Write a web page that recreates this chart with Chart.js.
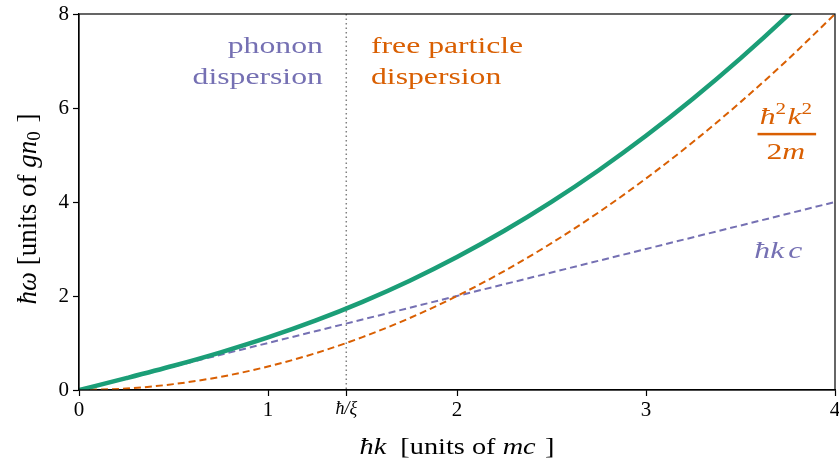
<!DOCTYPE html>
<html>
<head>
<meta charset="utf-8">
<script src="https://cdn.jsdelivr.net/npm/chart.js@4.4.0/dist/chart.umd.min.js"></script>
<style>
    body { margin: 0; background: #fff; font-family: "Liberation Serif", serif; }
    #wrap { width: 839px; height: 468px; position: relative; }
</style>
</head>
<body>
<div id="wrap"><canvas id="dispersionChart"></canvas></div>
<script>
// k values (units of mc)
const kValues = [0, 0.25, 0.5, 0.75, 1, 1.25, 1.5, 1.75, 2, 2.25, 2.5, 2.75, 3, 3.25, 3.5, 3.75, 4];
// Bogoliubov dispersion (units of gn0)
const bogoliubov = [0, 0.252, 0.515, 0.801, 1.118, 1.474, 1.875, 2.325, 2.828, 3.387, 4.002, 4.676, 5.408, 6.201, 7.055, 7.969, 8.944];
// free particle dispersion
const freeParticle = [0, 0.031, 0.125, 0.281, 0.5, 0.781, 1.125, 1.531, 2, 2.531, 3.125, 3.781, 4.5, 5.281, 6.125, 7.031, 8];
// phonon dispersion
const phonon = [0, 0.25, 0.5, 0.75, 1, 1.25, 1.5, 1.75, 2, 2.25, 2.5, 2.75, 3, 3.25, 3.5, 3.75, 4];

const xTicks = [0, 1, 1.4142, 2, 3, 4];
const xTickLabels = ['0', '1', 'ħ/ξ', '2', '3', '4'];
const healingK = 1.4142;

const serif = '"Liberation Serif", serif';
const green = '#1b9e77';
const orange = '#d95f02';
const purple = '#7570b3';

function toPoints(xs, ys) {
    return xs.map((x, i) => ({ x: x, y: ys[i] }));
}

// draw a row of text pieces with different fonts, stretched sideways by sx
function drawParts(ctx, parts, x, y, align, sx) {
    sx = sx || 1;
    let total = 0;
    parts.forEach(p => {
        ctx.font = p.font;
        p.w = ctx.measureText(p.text).width + (p.gap || 0);
        total += p.w;
    });
    let cx = align === 'center' ? -total / 2 : (align === 'right' ? -total : 0);
    ctx.save();
    ctx.translate(x, y);
    ctx.scale(sx, 1);
    parts.forEach(p => {
        ctx.font = p.font;
        ctx.textAlign = 'left';
        ctx.fillText(p.text, cx, p.dy || 0);
        cx += p.w;
    });
    ctx.restore();
}

const annotations = {
    id: 'annotations',
    beforeDatasetsDraw(chart) {
        const { ctx, chartArea, scales } = chart;
        const px = scales.x.getPixelForValue(healingK);
        ctx.save();
        ctx.strokeStyle = '#808080';
        ctx.lineWidth = 1.5;
        ctx.setLineDash([1.5, 3]);
        ctx.beginPath();
        ctx.moveTo(px, chartArea.top);
        ctx.lineTo(px, chartArea.bottom);
        ctx.stroke();
        ctx.restore();
    },
    afterDraw(chart) {
        const { ctx, chartArea, scales } = chart;
        const X = v => scales.x.getPixelForValue(v);
        const Y = v => scales.y.getPixelForValue(v);
        ctx.save();
        ctx.strokeStyle = '#000';
        ctx.lineWidth = 1.2;
        ctx.strokeRect(chartArea.left, chartArea.top, chartArea.right - chartArea.left, chartArea.bottom - chartArea.top);

        ctx.textBaseline = 'middle';
        const big = '24px ' + serif;
        const bigIt = 'italic 24px ' + serif;
        const sup = '16px ' + serif;
        const s = 1.32;

        ctx.fillStyle = purple;
        drawParts(ctx, [{ text: 'phonon', font: big }], X(1.29), Y(7.3), 'right', s);
        drawParts(ctx, [{ text: 'dispersion', font: big }], X(1.29), Y(6.64), 'right', s);
        drawParts(ctx, [
            { text: 'ħk', font: bigIt, gap: 3 },
            { text: 'c', font: bigIt }
        ], X(3.7), Y(2.94), 'center', s);

        ctx.fillStyle = orange;
        drawParts(ctx, [{ text: 'free particle', font: big }], X(1.545), Y(7.3), 'left', s);
        drawParts(ctx, [{ text: 'dispersion', font: big }], X(1.545), Y(6.64), 'left', s);
        drawParts(ctx, [
            { text: 'ħ', font: bigIt },
            { text: '2', font: sup, dy: -8, gap: 1 },
            { text: 'k', font: bigIt },
            { text: '2', font: sup, dy: -8 }
        ], X(3.74), Y(5.8), 'center', s);
        ctx.fillRect(X(3.59), Y(5.45) - 1, X(3.9) - X(3.59), 2.5);
        drawParts(ctx, [
            { text: '2', font: big },
            { text: 'm', font: bigIt }
        ], X(3.74), Y(5.05), 'center', s);

        // axis titles
        ctx.fillStyle = '#000';
        const t = '24px ' + serif;
        const ti = 'italic 24px ' + serif;
        drawParts(ctx, [
            { text: 'ħk', font: ti },
            { text: '  [units of ', font: t },
            { text: 'mc', font: ti, gap: 2 },
            { text: ' ]', font: t }
        ], (chartArea.left + chartArea.right) / 2, 448, 'center', 1.18);

        const ty = '27px ' + serif;
        const tyi = 'italic 27px ' + serif;
        ctx.translate(29, 209);
        ctx.rotate(-Math.PI / 2);
        drawParts(ctx, [
            { text: 'ħω', font: tyi },
            { text: ' [units of ', font: ty },
            { text: 'gn', font: tyi },
            { text: '0', font: '19px ' + serif, dy: 6, gap: 2 },
            { text: ' ]', font: ty }
        ], 0, 0, 'center', 1);
        ctx.restore();
    }
};

function buildChart() {
    const ctx = document.getElementById('dispersionChart').getContext('2d');
    return new Chart(ctx, {
        type: 'line',
        data: {
            datasets: [
                {
                    label: 'Bogoliubov',
                    data: toPoints(kValues, bogoliubov),
                    borderColor: green,
                    borderWidth: 4.5,
                    pointRadius: 0,
                    cubicInterpolationMode: 'monotone',
                    order: 0
                },
                {
                    label: 'free particle',
                    data: toPoints(kValues, freeParticle),
                    borderColor: orange,
                    borderWidth: 2,
                    borderDash: [7, 4],
                    pointRadius: 0,
                    cubicInterpolationMode: 'monotone',
                    order: 1
                },
                {
                    label: 'phonon',
                    data: toPoints(kValues, phonon),
                    borderColor: purple,
                    borderWidth: 2,
                    borderDash: [7, 4],
                    pointRadius: 0,
                    order: 2
                }
            ]
        },
        options: {
            responsive: true,
            maintainAspectRatio: false,
            animation: false,
            layout: { padding: { top: 14, right: 4, left: 0, bottom: 0 } },
            plugins: { legend: { display: false }, tooltip: { enabled: false } },
            scales: {
                x: {
                    type: 'linear',
                    min: 0,
                    max: 4,
                    afterBuildTicks: scale => { scale.ticks = xTicks.map(v => ({ value: v })); },
                    afterFit: scale => {
                        scale.height = 78;
                        scale.paddingLeft = 0;
                        scale.paddingRight = 0;
                    },
                    grid: { drawOnChartArea: false, drawTicks: true, tickLength: 6, color: '#000', tickWidth: 1.2 },
                    border: { display: true, color: '#000', width: 1.2 },
                    ticks: {
                        autoSkip: false,
                        maxRotation: 0,
                        color: '#000',
                        padding: 2,
                        font: c => (c.tick && c.tick.value === healingK)
                            ? { family: serif, size: 18, style: 'italic' }
                            : { family: serif, size: 21 },
                        callback: (value, index) => xTickLabels[index]
                    }
                },
                y: {
                    min: 0,
                    max: 8,
                    afterFit: scale => {
                        scale.width = 79;
                        scale.paddingTop = 0;
                        scale.paddingBottom = 0;
                    },
                    grid: { drawOnChartArea: false, drawTicks: true, tickLength: 6, color: '#000', tickWidth: 1.2 },
                    border: { display: true, color: '#000', width: 1.2 },
                    ticks: {
                        stepSize: 2,
                        color: '#000',
                        padding: 4,
                        font: { family: serif, size: 21 }
                    }
                }
            }
        },
        plugins: [annotations]
    });
}

let dispersionChart = null;
Promise.all([
    document.fonts.load('24px "Liberation Serif"', 'ħω'),
    document.fonts.load('italic 24px "Liberation Serif"', 'ħω')
]).catch(() => null).then(() => { dispersionChart = buildChart(); });
</script>
</body>
</html>
